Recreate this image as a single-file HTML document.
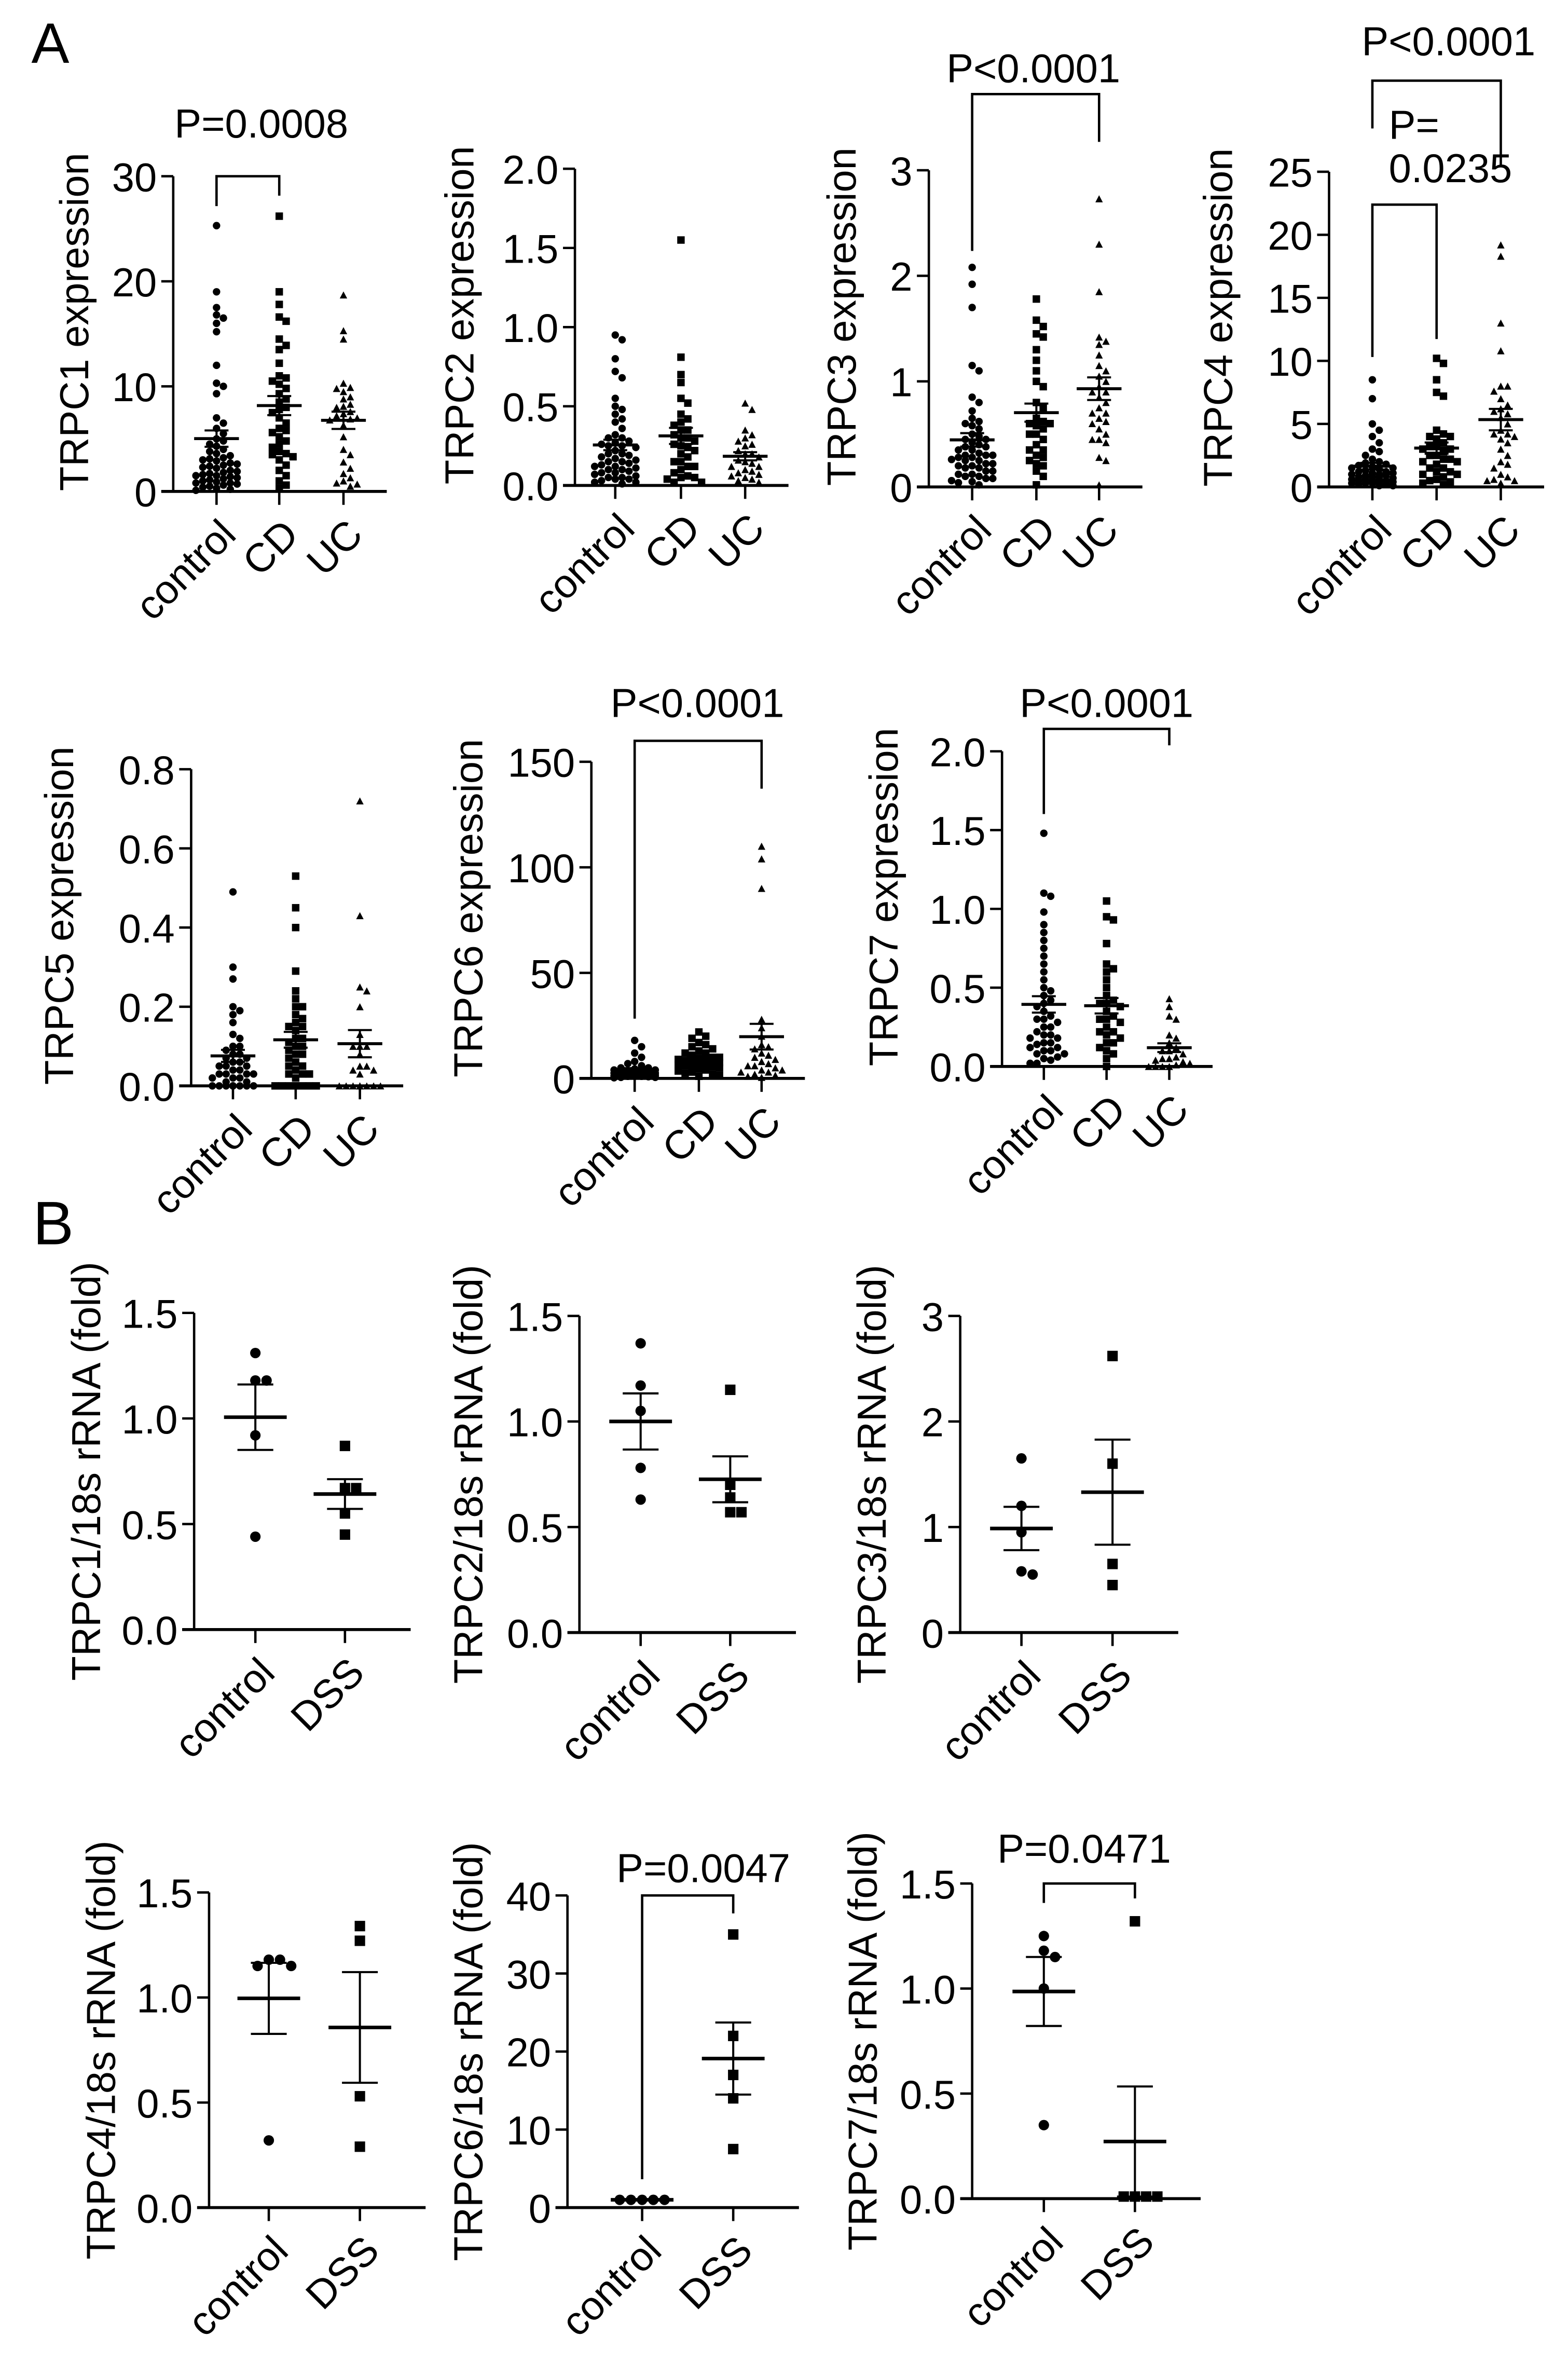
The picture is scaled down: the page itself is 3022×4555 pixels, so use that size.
<!DOCTYPE html>
<html><head><meta charset="utf-8"><style>
html,body{margin:0;padding:0;background:#fff}
svg{display:block}
text{font-family:"Liberation Sans",Arial,sans-serif;fill:#000}
</style></head><body>
<svg id="fig" xmlns="http://www.w3.org/2000/svg" width="3022" height="4555" viewBox="0 0 1050 1582.7" preserveAspectRatio="none">
<rect width="1050" height="1582.7" fill="#fff"/>
<text x="21" y="42" font-size="38">A</text>
<text x="22" y="833" font-size="41">B</text>
</svg>
<script>
// ---------- data ----------
const catsA = ["control","CD","UC"];
const catsB = ["control","DSS"];
const ticksA1 = [0,10,20,30];
const ticksA2 = [0,0.5,1,1.5,2];
const ticksA3 = [0,1,2,3];
const ticksA4 = [0,5,10,15,20,25];
const ticksA5 = [0,0.2,0.4,0.6,0.8];
const ticksA6 = [0,50,100,150];
const ticksA7 = [0,0.5,1,1.5,2];
const ticksB15 = [0,0.5,1,1.5];
const ticksB3 = [0,1,2,3];
const ticksB6 = [0,10,20,30,40];

const a1Control = [25.3,19,17.5,16.8,16.5,16,15.2,12,10.3,10,9.3,7,6.5,6,5.5,5,4.8,4.5,4.3,4,3.8,3.6,3.4,3.2,3,2.9,2.7,2.5,2.4,2.2,2,1.9,1.8,1.7,1.6,1.5,1.4,1.3,1.2,1.1,1,0.9,0.8,0.7,0.6,0.5,0.4,0.3,0.2,0.1,2.3,3.1,1.5,0.8,2.6];
const a1CD = [26.2,19,17.8,16.6,16.2,14.5,13.9,13.5,12.2,11,10.8,10.5,10.2,9.8,9.3,8.8,8.5,8,7.5,7,6.5,6,5.6,5.2,4.8,4.5,4.2,3.8,3.3,3,2.5,2,1.5,1,0.6,0.3,7.8,5.8,3.5,3.6];
const a1UC = [18.7,15.3,14.5,10.3,9.9,9.5,9,8.8,8.3,8,7.6,7.4,7.2,7,6.8,6.3,5.2,4,3.5,2.8,2.2,1.7,1.3,1,0.8,0.7,0.5,9.8,8.1,6.9];

const a2Control = [0.95,0.92,0.8,0.72,0.68,0.55,0.5,0.48,0.45,0.42,0.4,0.36,0.32,0.3,0.28,0.27,0.26,0.25,0.24,0.22,0.2,0.19,0.18,0.17,0.16,0.15,0.14,0.13,0.12,0.11,0.1,0.09,0.08,0.07,0.06,0.05,0.04,0.03,0.02,0.01,0.3,0.25,0.2,0.15,0.1,0.05,0.12,0.08,0.04,0.02];
const a2CD = [1.55,0.81,0.7,0.65,0.55,0.52,0.45,0.42,0.4,0.38,0.35,0.32,0.3,0.28,0.26,0.24,0.22,0.2,0.18,0.15,0.12,0.1,0.08,0.06,0.04,0.02,0.35,0.25,0.12,0.05,0.02,0.3,0.15,0.05];
const a2UC = [0.52,0.48,0.35,0.32,0.3,0.28,0.25,0.22,0.2,0.18,0.16,0.15,0.14,0.12,0.1,0.09,0.08,0.06,0.05,0.04,0.03,0.02,0.2,0.12,0.07,0.26];

const a3Control = [2.08,1.92,1.7,1.15,1.1,0.85,0.8,0.72,0.65,0.62,0.6,0.58,0.55,0.5,0.48,0.45,0.42,0.4,0.38,0.35,0.32,0.3,0.28,0.26,0.25,0.22,0.2,0.18,0.15,0.12,0.1,0.08,0.06,0.04,0.02,0.3,0.2,0.1,0.35,0.45,0.25,0.15,0.05,0.38,0.28,0.18,0.12,0.08,0.3,0.22];
const a3CD = [1.78,1.58,1.52,1.45,1.42,1.3,1.2,1.1,1,0.95,0.8,0.75,0.65,0.6,0.58,0.55,0.5,0.45,0.4,0.35,0.3,0.28,0.25,0.22,0.2,0.15,0.1,0.02,0.6,0.5,0.35,0.62];
const a3UC = [2.73,2.3,1.85,1.42,1.38,1.35,1.25,1.15,1.1,1.05,1,0.95,0.9,0.85,0.8,0.75,0.7,0.62,0.55,0.5,0.45,0.42,0.45,0.28,0.25,0.02,0.9,0.65,0.6,0.7];

const a4Control = [8.5,7,5,4.5,4,3.5,3,2.8,2.5,2.2,2,1.9,1.8,1.7,1.6,1.5,1.4,1.3,1.2,1.1,1,0.9,0.8,0.7,0.6,0.5,0.4,0.3,0.2,0.1,1.5,1,0.5,0.8,1.2,0.6,0.3,0.9,0.4,0.2,1.1,0.7,0.5,0.3,0.1];
const a4CD = [10.2,9.8,8.5,7.5,7.2,4.5,4.2,4,3.8,3.5,3.2,3,2.8,2.5,2.2,2,1.8,1.5,1.2,1,0.8,0.6,0.4,0.2,3,2,1,2.5,1.5,0.5,3.2,2.2,1.2,0.3,4];
const a4UC = [19.2,18.3,13,10.8,8,8,7.6,7,6.5,6,5.5,5,4.5,4.2,4,4.2,3.5,3,2.5,2,1.5,1,0.5,0.3,0.6,0.5,6.2,5.8,3.8,1.8,0.8];

const a5Control = [0.49,0.3,0.27,0.2,0.19,0.18,0.16,0.13,0.12,0.1,0.09,0.08,0.07,0.06,0.05,0.04,0.03,0.03,0.02,0,0,0,0,0,0.05,0.03,0.02,0.01,0.04,0.06,0.08,0.1,0.02,0.01,0,0,0.03,0.05,0.07,0,0,0];
const a5CD = [0.53,0.45,0.4,0.29,0.24,0.22,0.2,0.18,0.17,0.16,0.15,0.14,0.12,0.11,0.1,0.09,0.08,0.07,0.06,0.05,0.04,0.03,0.03,0,0,0,0,0,0,0.15,0.12,0.1,0.05,0.03,0.02,0.2,0.08,0,0,0];
const a5UC = [0.72,0.43,0.25,0.24,0.2,0.13,0.1,0.1,0.08,0.05,0.05,0.04,0.04,0.03,0,0,0,0,0,0,0,0,0,0.1];

const a6Control = [18,15,12,10,8,7,6,5,4.5,4,3.5,3,2.5,2,1.8,1.5,1.2,1,0.8,0.5,0.3,2,3,4,1,2,5,3,1,0.5,2.5,1.5,3.5];
const a6CD = [22,20,19,17,16,15,14,13,12,11,10,9.5,9,8.5,8,7.5,7,6.5,6,5.5,5,4.5,4,3.5,3,2.5,2,1.5,1,10,8,6,12,9,7];
const a6UC = [110,104,90,28,24,20,16,14,12,10,9,8,7,6,5,4,3,2,1,0.5,15,11,6,3,1.5,4];

const a7Control = [1.48,1.1,1.08,0.98,0.9,0.85,0.8,0.75,0.7,0.65,0.6,0.55,0.5,0.48,0.45,0.42,0.4,0.38,0.35,0.32,0.3,0.28,0.25,0.22,0.2,0.18,0.15,0.12,0.1,0.08,0.06,0.04,0.02,0.3,0.2,0.1,0.15,0.12,0.25,0.05,0.02,0.18,0.08,0.14];
const a7CD = [1.05,0.95,0.93,0.78,0.65,0.62,0.6,0.55,0.5,0.45,0.42,0.4,0.38,0.35,0.32,0.3,0.28,0.25,0.22,0.2,0.18,0.15,0.12,0.1,0.08,0.05,0,0.4,0.3,0.15,0.22];
const a7UC = [0.43,0.38,0.32,0.3,0.2,0.18,0.15,0.12,0.1,0.08,0.06,0.05,0.04,0.03,0.02,0.01,0,0,0,0,0.1,0.05];

const b1Control = [1.31,1.18,1.18,0.92,0.44];
const b1DSS = [0.87,0.67,0.67,0.55,0.45];
const b2Control = [1.37,1.17,1.05,0.78,0.63];
const b2DSS = [1.15,0.7,0.64,0.57,0.57];
const b3Control = [1.65,1.2,0.95,0.58,0.55];
const b3DSS = [2.62,1.6,0.65,0.45];
const b4Control = [1.18,1.18,1.15,1.15,0.32];
const b4DSS = [1.34,1.27,0.53,0.29];
const b5Control = [1,1,1,1,1];
const b5DSS = [35,22,17,14,7.5];
const b6Control = [1.25,1.18,1.15,1.0,0.35];
const b6DSS = [1.32,0.01,0.01,0.01,0.01];

// ---------- layout ----------
const NS = "http://www.w3.org/2000/svg";
const svg = document.getElementById("fig");
function mk(tag, attrs, parent){
  const e = document.createElementNS(NS, tag);
  for (const k in attrs) e.setAttribute(k, attrs[k]);
  (parent||svg).appendChild(e);
  return e;
}
function fmt(v, dec){ return v.toFixed(dec); }
const FS = 27;

const panels = [
 {id:"a-trpc1", title:"TRPC1 expression", ax:116, y0:329, yT:118, max:30, ticks:ticksA1, dec:0, cx:[145,187,230], cats:catsA, groups:[a1Control,a1CD,a1UC], tx:50, big:false,
  br:[{x1:145,x2:187,top:118,l:138,r:131,label:["P=0.0008"],lx:175,ly:92}]},
 {id:"a-trpc2", title:"TRPC2 expression", ax:385, y0:325, yT:113, max:2, ticks:ticksA2, dec:1, cx:[412,456,499], cats:catsA, groups:[a2Control,a2CD,a2UC], tx:308, big:false, br:[]},
 {id:"a-trpc3", title:"TRPC3 expression", ax:622, y0:326, yT:114, max:3, ticks:ticksA3, dec:0, cx:[651,694,736], cats:catsA, groups:[a3Control,a3CD,a3UC], tx:564, big:false,
  br:[{x1:651,x2:736,top:63,l:168,r:95,label:["P<0.0001"],lx:692,ly:55}]},
 {id:"a-trpc4", title:"TRPC4 expression", ax:890, y0:326, yT:115, max:25, ticks:ticksA4, dec:0, cx:[919,962,1005], cats:catsA, groups:[a4Control,a4CD,a4UC], tx:816, big:false,
  br:[{x1:919,x2:1005,top:54,l:86,r:112,label:["P<0.0001"],lx:970,ly:37},
      {x1:919,x2:962,top:137,l:239,r:227,label:[],lx:0,ly:0}],
  extra:[{t:"P=",x:930,y:93},{t:"0.0235",x:930,y:122}]},
 {id:"a-trpc5", title:"TRPC5 expression", ax:128, y0:727, yT:515, max:0.8, ticks:ticksA5, dec:1, cx:[156,198,241], cats:catsA, groups:[a5Control,a5CD,a5UC], tx:40, big:false, br:[]},
 {id:"a-trpc6", title:"TRPC6 expression", ax:396, y0:722, yT:510, max:150, ticks:ticksA6, dec:0, cx:[425,468,510], cats:catsA, groups:[a6Control,a6CD,a6UC], tx:314, big:false,
  br:[{x1:425,x2:510,top:496,l:682,r:528,label:["P<0.0001"],lx:467,ly:480}]},
 {id:"a-trpc7", title:"TRPC7 expression", ax:671, y0:714, yT:503, max:2, ticks:ticksA7, dec:1, cx:[699,741,783], cats:catsA, groups:[a7Control,a7CD,a7UC], tx:592, big:false,
  br:[{x1:699,x2:783,top:488,l:545,r:499,label:["P<0.0001"],lx:741,ly:480}]},
 {id:"b-trpc1", title:"TRPC1/18s rRNA (fold)", ax:130, y0:1091, yT:879, max:1.5, ticks:ticksB15, dec:1, cx:[171,231], cats:catsB, groups:[b1Control,b1DSS], tx:58, big:true, br:[]},
 {id:"b-trpc2", title:"TRPC2/18s rRNA (fold)", ax:388, y0:1093, yT:881, max:1.5, ticks:ticksB15, dec:1, cx:[429,489], cats:catsB, groups:[b2Control,b2DSS], tx:314, big:true, br:[]},
 {id:"b-trpc3", title:"TRPC3/18s rRNA (fold)", ax:643, y0:1093, yT:881, max:3, ticks:ticksB3, dec:0, cx:[684,745], cats:catsB, groups:[b3Control,b3DSS], tx:584, big:true, br:[]},
 {id:"b-trpc4", title:"TRPC4/18s rRNA (fold)", ax:140, y0:1478, yT:1267, max:1.5, ticks:ticksB15, dec:1, cx:[180,241], cats:catsB, groups:[b4Control,b4DSS], tx:68, big:true, br:[]},
 {id:"b-trpc6", title:"TRPC6/18s rRNA (fold)", ax:380, y0:1478, yT:1269, max:40, ticks:ticksB6, dec:0, cx:[430,491], cats:catsB, groups:[b5Control,b5DSS], tx:314, big:true,
  br:[{x1:430,x2:491,top:1269,l:1459,r:1281,label:["P=0.0047"],lx:471,ly:1260}]},
 {id:"b-trpc7", title:"TRPC7/18s rRNA (fold)", ax:651, y0:1472, yT:1261, max:1.5, ticks:ticksB15, dec:1, cx:[699,760], cats:catsB, groups:[b6Control,b6DSS], tx:578, big:true,
  br:[{x1:699,x2:760,top:1261,l:1274,r:1271,label:["P=0.0471"],lx:726,ly:1247}]}
];

function marker(g, shape, x, y, s){
  let e;
  if (shape===0){ e = mk("circle",{cx:x.toFixed(2),cy:y.toFixed(2),r:(s/2).toFixed(2),fill:"#000"},g); }
  else if (shape===1){ e = mk("rect",{x:(x-s/2).toFixed(2),y:(y-s/2).toFixed(2),width:s,height:s,fill:"#000"},g); }
  else { const h=s*0.95; e = mk("polygon",{points:`${(x-s/2).toFixed(2)},${(y+h/2).toFixed(2)} ${(x+s/2).toFixed(2)},${(y+h/2).toFixed(2)} ${x.toFixed(2)},${(y-h/2).toFixed(2)}`,fill:"#000"},g); }
  
  
}

panels.forEach(p=>{
  const g = mk("g",{});
  
  
  const yS = v => p.y0 - (v/p.max)*(p.y0-p.yT);
  const last = p.cx[p.cx.length-1];
  const xEnd = last + (p.big?44:29);
  const sw = 1.6;
  const ya = mk("line",{x1:p.ax,y1:p.yT,x2:p.ax,y2:p.y0,stroke:"#000","stroke-width":sw},g);
  
  
  const xa = mk("line",{x1:p.ax-8,y1:p.y0,x2:xEnd,y2:p.y0,stroke:"#000","stroke-width":sw+0.4},g);
  
  
  p.ticks.forEach(t=>{
    const y = yS(t);
    mk("line",{x1:p.ax-8,y1:y,x2:p.ax,y2:y,stroke:"#000","stroke-width":sw},g);
    const tl = mk("text",{x:p.ax-11,y:y+10,"font-size":FS,"text-anchor":"end"},g);
    tl.textContent = fmt(t,p.dec);
    
    
  });
  const mid = (p.y0+p.yT)/2 - (p.big?0:8);
  const tt = mk("text",{x:p.tx,y:mid,"font-size":FS,"text-anchor":"middle",transform:`rotate(-90 ${p.tx} ${mid})`,"dominant-baseline":"central"},g);
  tt.textContent = p.title;
  
  
  p.cats.forEach((c,i)=>{
    const x = p.cx[i];
    mk("line",{x1:x,y1:p.y0,x2:x,y2:p.y0+9,stroke:"#000","stroke-width":sw},g);
    const lx = x+8, ly = p.y0+24;
    const cl = mk("text",{x:lx,y:ly,"font-size":FS,"text-anchor":"end",transform:`rotate(-45 ${lx} ${ly})`,"dominant-baseline":"central"},g);
    cl.textContent = c;
    
    
  });
  const ms = p.big?7:5;
  const d = p.big?7.5:4.6;
  const maxOff = p.big?18:16;
  p.groups.forEach((vals,gi)=>{
    const cx = p.cx[gi];
    const placed = [];
    const sorted = vals.slice().sort((a,b)=>b-a);
    sorted.forEach(v=>{
      const y = yS(v);
      let x = cx, best = cx, bestD = -1;
      for (let n=0;n<40;n++){
        const off = (n===0?0:(n%2? Math.ceil(n/2) : -Math.ceil(n/2)))*d;
        if (Math.abs(off) > maxOff) break;
        x = cx+off;
        const md = placed.reduce((m,q)=>Math.min(m,Math.hypot(q[0]-x,q[1]-y)),1e9);
        if (md >= d*0.98){ best = x; bestD = md; break; }
        if (md > bestD){ bestD = md; best = x; }
      }
      placed.push([best,y]);
      marker(g, p.big?(gi===0?0:1):gi, best, y, ms);
    });
    const n = vals.length;
    const mean = vals.reduce((a,b)=>a+b,0)/n;
    const sd = Math.sqrt(vals.reduce((a,b)=>a+(b-mean)*(b-mean),0)/(n-1));
    const sem = sd/Math.sqrt(n);
    const mw = p.big?21:15, cw = p.big?12:8;
    const ml = mk("line",{x1:cx-mw,y1:yS(mean),x2:cx+mw,y2:yS(mean),stroke:"#000","stroke-width":p.big?2.4:2},g);
    
    
    const el = mk("path",{d:`M${cx} ${yS(mean+sem)}V${yS(Math.max(mean-sem,0))}M${cx-cw} ${yS(mean+sem)}H${cx+cw}M${cx-cw} ${yS(Math.max(mean-sem,0))}H${cx+cw}`,stroke:"#000","stroke-width":1.4,fill:"none"},g);
    
    
  });
  p.br.forEach(b=>{
    const bp = mk("path",{d:`M${b.x1} ${b.l}V${b.top}H${b.x2}V${b.r}`,stroke:"#000","stroke-width":1.6,fill:"none"},g);
    
    
    b.label.forEach(s=>{
      const t = mk("text",{x:b.lx,y:b.ly,"font-size":FS,"text-anchor":"middle"},g);
      t.textContent = s;
      
      
    });
  });
  (p.extra||[]).forEach(e=>{
    const t = mk("text",{x:e.x,y:e.y,"font-size":FS},g);
    t.textContent = e.t;
    
    
  });
});
</script>
</body></html>
